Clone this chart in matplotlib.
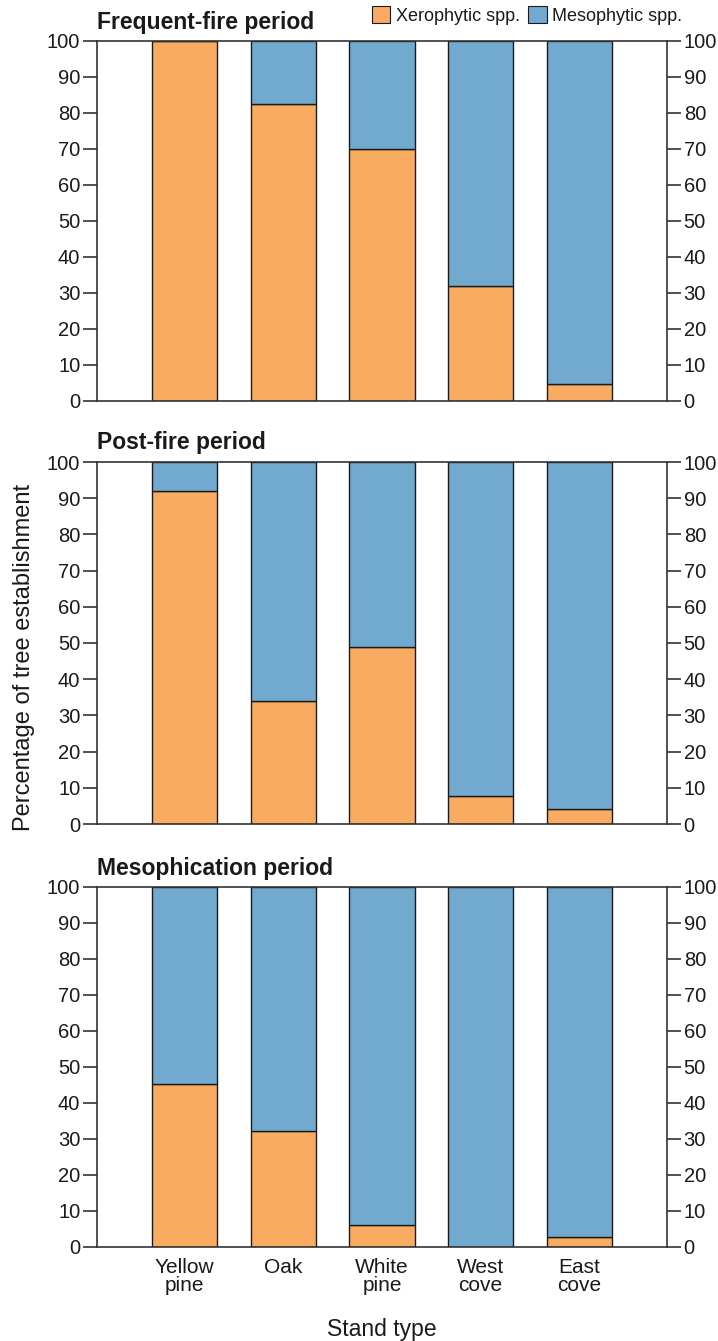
import matplotlib
matplotlib.use("Agg")
import matplotlib.pyplot as plt
from matplotlib.patches import Patch
import numpy as np

plt.rcParams['font.family'] = ['Liberation Sans', 'DejaVu Sans']

stands = ["Yellow\npine", "Oak", "White\npine", "West\ncove", "East\ncove"]
periods = ["Frequent-fire period", "Post-fire period", "Mesophication period"]

xero_frequent = [100, 82.6, 70.0, 32.0, 4.8]
meso_frequent = [0, 17.4, 30.0, 68.0, 95.2]
xero_postfire = [92.0, 34.0, 48.8, 7.8, 4.2]
meso_postfire = [8.0, 66.0, 51.2, 92.2, 95.8]
xero_mesoph = [45.3, 32.2, 6.2, 0.0, 2.8]
meso_mesoph = [54.7, 67.8, 93.8, 100.0, 97.2]

xero_all = [xero_frequent, xero_postfire, xero_mesoph]
meso_all = [meso_frequent, meso_postfire, meso_mesoph]

c_xero = "#F9AC61"
c_meso = "#72AACF"
edge = "#1a1a1a"
spine_c = "#333333"
txt_c = "#1a1a1a"

W, H = 718, 1341
fig = plt.figure(figsize=(W / 100, H / 100), dpi=100)

left_px, right_px = 97, 667
panels_px = [(41, 401), (462, 824), (887, 1247)]

axes = []
x = np.arange(len(stands))
for i, (top, bot) in enumerate(panels_px):
    ax = fig.add_axes([left_px / W, 1 - bot / H, (right_px - left_px) / W, (bot - top) / H])
    axes.append(ax)
    ax.bar(x, xero_all[i], width=0.66, color=c_xero, edgecolor=edge, linewidth=1.0, zorder=2)
    ax.bar(x, meso_all[i], width=0.66, bottom=xero_all[i], color=c_meso, edgecolor=edge,
           linewidth=1.0, zorder=2)
    ax.set_xlim(-0.89, 4.89)
    ax.set_ylim(0, 100)
    ax.set_yticks(np.arange(0, 101, 10))
    ax.tick_params(axis='y', which='major', direction='out', length=10, width=1.2,
                   color=spine_c, labelsize=14.5, labelcolor=txt_c, left=True, right=True,
                   labelleft=True, labelright=True, pad=2)
    for s in ax.spines.values():
        s.set_color(spine_c)
        s.set_linewidth(1.2)
    ax.set_title(periods[i], loc='left', fontsize=16.5, fontweight='bold', pad=9,
                 color=txt_c)
    if i < 2:
        ax.set_xticks([])
    else:
        ax.set_xticks(x)
        ax.set_xticklabels(stands, fontsize=15, linespacing=0.95, color=txt_c)
        ax.tick_params(axis='x', length=0, pad=8)
        ax.set_xlabel("Stand type", fontsize=16.5, labelpad=16, color=txt_c)

handles = [Patch(facecolor=c_xero, edgecolor=edge, linewidth=0.8, label="Xerophytic spp."),
           Patch(facecolor=c_meso, edgecolor=edge, linewidth=0.8, label="Mesophytic spp.")]
axes[0].legend(handles=handles, ncol=2, loc='lower right', bbox_to_anchor=(1.027, 1.045),
               frameon=False, fontsize=13, labelcolor=txt_c, handlelength=1.05,
               handleheight=1.1, handletextpad=0.3, columnspacing=0.45, borderpad=0,
               borderaxespad=0)

fig.text(24 / W, 1 - 657 / H, "Percentage of tree establishment", rotation=90, ha='center',
         va='center', fontsize=17, color=txt_c)

fig.savefig("out.png", dpi=100)
